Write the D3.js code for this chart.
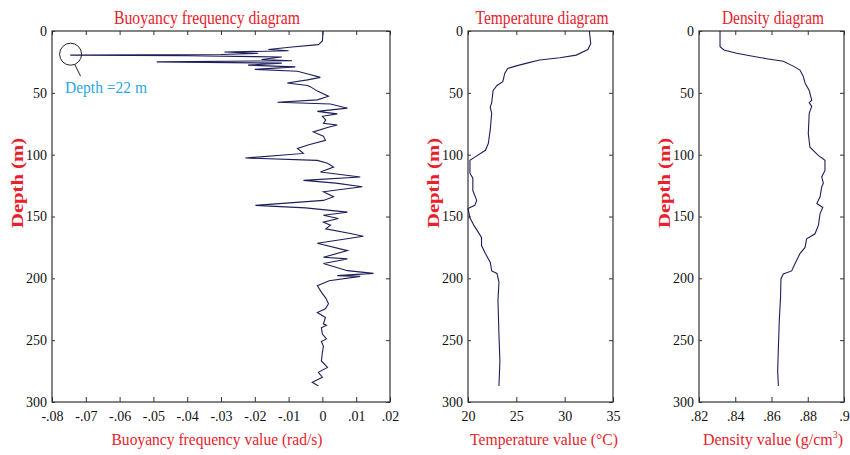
<!DOCTYPE html>
<meta charset="utf-8">
<style>
body { margin: 0; background: #fff; }
.frame { fill: none; stroke: #333; stroke-width: 1.2; }
.tick line { stroke: #333; stroke-width: 1; }
.profile { fill: none; stroke: #1c1f5a; stroke-width: 1.1; }
</style>
<body>
<script src="https://cdn.jsdelivr.net/npm/d3@7"></script>
<script>
var width = 850, height = 455;
var serif = "'Liberation Serif', 'DejaVu Serif', 'Times New Roman', serif";
var red = "#e8212b";

// buoyancy frequency profile (depth m, value rad/s)
var bfDepth = [0, 8, 11, 13, 15, 16, 17, 18, 19, 19.5, 20, 21, 23, 24, 25, 26, 27.6, 29, 31, 32.5,
  35, 37.5, 39.5, 42, 44, 45, 48.6, 52.7, 55.7, 57.6, 59, 62.4, 65, 67, 69, 72, 74.6, 76, 78, 81.6,
  85, 88.4, 92, 94.9, 99, 102.7, 104.6, 107, 110, 114, 118, 120.8, 123, 126, 130, 134, 137, 141, 143, 146.5,
  149, 151.6, 154.6, 157, 160, 163.8, 166, 171.6, 177.6, 183, 184.3, 188, 193.8, 196, 197.8, 198.4, 202, 206, 212.4, 216,
  220.6, 224.6, 227.6, 231.6, 236.8, 238, 240, 245, 249, 251, 255, 260, 266.8, 272, 276, 280, 284, 287];
var bfValue = [0.0002, 0, -0.0012, -0.009, -0.016, -0.010, -0.029, -0.019, -0.030, -0.0746, -0.040, -0.012, -0.018, -0.009, -0.049, -0.012, -0.022, -0.008, -0.020, -0.0074,
  -0.004, -0.0006, -0.0044, -0.0104, -0.0044, -0.0036, -0.0015, 0.0018, -0.0015, -0.0133, 0.0024, 0.0074, -0.0015, 0.0044, 0, 0.001, 0.0003, 0.0044, 0.0015, -0.0027,
  0.0003, 0.0009, -0.004, -0.0074, -0.0056, -0.0228, -0.0015, 0.0015, 0.0033, -0.0006, 0.0112, -0.0056, 0.004, 0.0118, 0.0003, 0.0033, 0.0003, -0.0198, -0.005, 0.0074,
  0.0003, 0.0047, 0.0003, 0.0024, 0.001, 0.0083, 0.0121, -0.0015, 0.0074, 0.0003, 0.0074, 0.0003, 0.0074, 0.0151, 0.0044, 0.0112, 0.002, -0.0015, 0, 0.001,
  0.0018, 0.0009, -0.0015, 0.0009, 0.0003, 0.0012, -0.0003, 0, 0.0012, -0.0003, 0.0003, 0, -0.0003, 0.0015, -0.0012, 0, -0.003, -0.0012];

// temperature profile (depth m, degC)
var tempDepth = [0, 10, 15, 19.5, 21.6, 23.5, 26, 28.4, 30.3, 34.3, 41, 44, 48, 58, 61.6, 66.5, 80, 91, 96.5, 102,
  104.6, 115, 119, 129, 137, 141, 143.5, 151, 157, 167, 173.5, 180, 187, 194, 196, 203, 218, 245, 267, 287];
var tempValue = [32.55, 32.7, 32.4, 31.2, 29.5, 27.4, 26.1, 24.9, 24.1, 23.8, 23.6, 23.0, 22.6, 22.45, 22.3, 22.45, 22.3, 22.1, 21.8, 20.7,
  20.2, 20.2, 20.5, 20.5, 20.9, 20.7, 20.0, 20.2, 20.6, 21.4, 21.4, 21.8, 22.3, 22.45, 23.0, 23.2, 23.1, 23.2, 23.3, 23.2];

// density profile (depth m, g/cm3)
var densDepth = [0, 12.7, 15.4, 18, 20, 22.4, 24.5, 28.4, 31.6, 36.5, 42, 48, 56, 58, 61, 66.5, 83, 94, 100.6, 104.6,
  112.7, 118, 123, 126, 134, 139.5, 142.7, 147.6, 157, 164, 168, 175, 180, 188, 194, 196.5, 200.5, 215, 234, 256, 275, 287];
var densValue = [0.8316, 0.8316, 0.8338, 0.8408, 0.8481, 0.8573, 0.8665, 0.872, 0.8757, 0.8775, 0.8785, 0.8808, 0.8822, 0.8808, 0.8822, 0.8808, 0.8803, 0.8812, 0.8858, 0.8895,
  0.8895, 0.8877, 0.8886, 0.8877, 0.8868, 0.885, 0.8883, 0.8868, 0.8859, 0.884, 0.8794, 0.8785, 0.8757, 0.873, 0.8711, 0.8665, 0.8652, 0.8650, 0.8643, 0.8638, 0.8634, 0.8638];

var depthTicks = [0, 50, 100, 150, 200, 250, 300];
var bfTicks = [-0.08, -0.07, -0.06, -0.05, -0.04, -0.03, -0.02, -0.01, 0, 0.01, 0.02];
var bfTickLabels = ["-.08", "-.07", "-.06", "-.05", "-.04", "-.03", "-.02", "-.01", "0", ".01", ".02"];
var tempTicks = [20, 25, 30, 35];
var tempTickLabels = ["20", "25", "30", "35"];
var densTicks = [0.82, 0.84, 0.86, 0.88, 0.9];
var densTickLabels = [".82", ".84", ".86", ".88", ".9"];

var markDepth = 22;

var svg = d3.select("body").append("svg")
  .attr("width", width)
  .attr("height", height)
  .attr("font-family", serif);

function drawPanel(p) {
  var x = d3.scaleLinear().domain(p.domain).range([p.left, p.right]);
  var y = d3.scaleLinear().domain([0, 300]).range([p.top, p.bottom]);
  var g = svg.append("g");

  var fmt = function(d) { return p.labels[p.ticks.indexOf(d)]; };
  var clean = function(a) {
    a.select(".domain").remove();
    a.attr("font-family", serif).attr("font-size", 14);
    a.selectAll("text").attr("fill", "#111");
  };

  g.append("g").attr("transform", "translate(0," + p.bottom + ")")
    .call(d3.axisBottom(x).tickValues(p.ticks).tickFormat(fmt).tickSizeInner(-5).tickSizeOuter(0).tickPadding(9))
    .call(clean);
  g.append("g").attr("transform", "translate(0," + p.top + ")")
    .call(d3.axisTop(x).tickValues(p.ticks).tickFormat("").tickSizeInner(-4).tickSizeOuter(0))
    .call(clean);
  g.append("g").attr("transform", "translate(" + p.left + ",0)")
    .call(d3.axisLeft(y).tickValues(depthTicks).tickSizeInner(-3).tickSizeOuter(0).tickPadding(5))
    .call(clean);
  g.append("g").attr("transform", "translate(" + p.right + ",0)")
    .call(d3.axisRight(y).tickValues(depthTicks).tickFormat("").tickSizeInner(-4).tickSizeOuter(0))
    .call(clean);

  g.append("rect").attr("class", "frame")
    .attr("x", p.left).attr("y", p.top)
    .attr("width", p.right - p.left).attr("height", p.bottom - p.top);

  var line = d3.line()
    .x(function(d) { return x(d[1]); })
    .y(function(d) { return y(d[0]); });
  g.append("path").attr("class", "profile")
    .datum(d3.zip(p.depth, p.value))
    .attr("stroke-width", p.lw || 1.1)
    .attr("d", line);

  g.append("text")
    .attr("x", p.titleX).attr("y", 24)
    .attr("text-anchor", "middle")
    .attr("font-family", serif)
    .attr("font-size", 19)
    .attr("fill", red)
    .attr("textLength", p.titleW).attr("lengthAdjust", "spacingAndGlyphs")
    .text(p.title);

  var xl = g.append("text")
    .attr("x", p.xlabelX).attr("y", 445)
    .attr("text-anchor", "middle")
    .attr("font-family", serif)
    .attr("font-size", p.sup ? 16 : 17)
    .attr("fill", red);
  if (p.sup) {
    xl.append("tspan").text(p.xlabel);
    xl.append("tspan").attr("font-size", 10).attr("dy", -7).text(p.sup);
    xl.append("tspan").attr("dy", 7).text(")");
  } else {
    xl.attr("textLength", p.xlabelW).attr("lengthAdjust", "spacingAndGlyphs").text(p.xlabel);
  }

  g.append("text")
    .attr("transform", "translate(" + p.ylabelX + ",183) rotate(-90)")
    .attr("text-anchor", "middle")
    .attr("font-family", serif)
    .attr("font-weight", "bold")
    .attr("font-size", 16)
    .attr("fill", red)
    .attr("textLength", 90).attr("lengthAdjust", "spacingAndGlyphs")
    .text("Depth (m)");

  return { x: x, y: y };
}

var bf = drawPanel({
  left: 52, right: 390, top: 31, bottom: 402,
  domain: [-0.08, 0.02], ticks: bfTicks, labels: bfTickLabels,
  depth: bfDepth, value: bfValue, lw: 1.4,
  title: "Buoyancy frequency diagram", titleX: 207, titleW: 186,
  xlabel: "Buoyancy frequency value (rad/s)", xlabelX: 217, xlabelW: 211,
  ylabelX: 23
});

drawPanel({
  left: 468, right: 613, top: 31, bottom: 402,
  domain: [20, 35], ticks: tempTicks, labels: tempTickLabels,
  depth: tempDepth, value: tempValue,
  title: "Temperature diagram", titleX: 542, titleW: 133,
  xlabel: "Temperature value (\u00b0C)", xlabelX: 544, xlabelW: 148,
  ylabelX: 439
});

drawPanel({
  left: 699, right: 844, top: 31, bottom: 402,
  domain: [0.82, 0.9], ticks: densTicks, labels: densTickLabels,
  depth: densDepth, value: densValue,
  title: "Density diagram", titleX: 773, titleW: 102,
  xlabel: "Density value (g/cm", sup: "3", xlabelX: 773, xlabelW: 137,
  ylabelX: 670
});

// annotation of the strongest spike
var cx = bf.x(-0.0745), cy = bf.y(markDepth) - 4;
svg.append("circle")
  .attr("cx", cx).attr("cy", cy).attr("r", 11)
  .attr("fill", "none").attr("stroke", "#222").attr("stroke-width", 1);
svg.append("line")
  .attr("x1", cx + 4).attr("y1", cy + 10)
  .attr("x2", cx + 10).attr("y2", cy + 22)
  .attr("stroke", "#222").attr("stroke-width", 1);
svg.append("text")
  .attr("x", 65).attr("y", 93)
  .attr("font-family", serif)
  .attr("font-size", 17)
  .attr("fill", "#2aa7df")
  .attr("textLength", 82).attr("lengthAdjust", "spacingAndGlyphs")
  .text("Depth =" + markDepth + " m");
</script>
</body>
